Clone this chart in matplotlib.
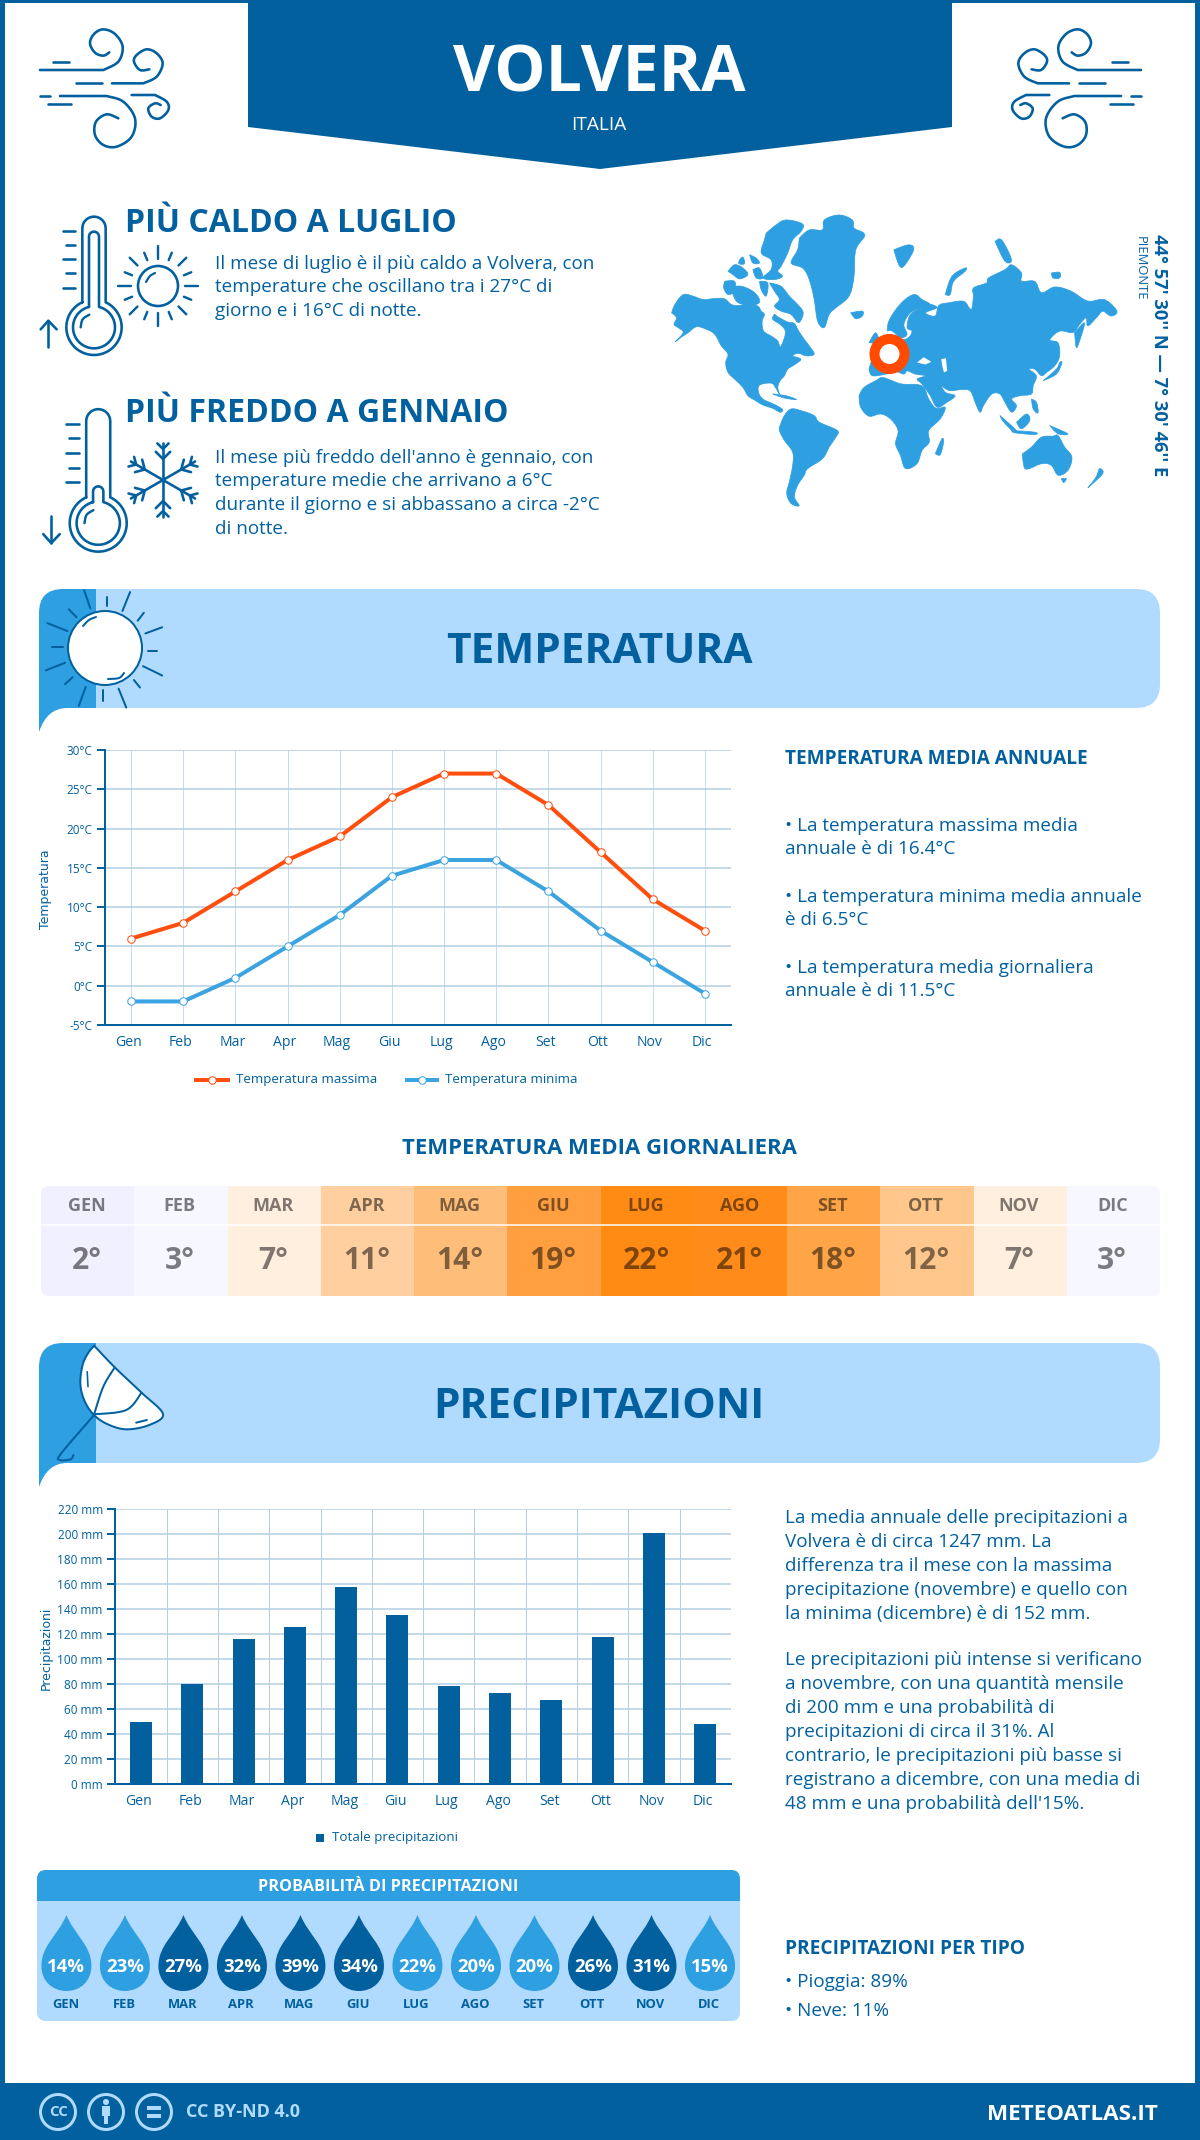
import numpy as np
import matplotlib
matplotlib.use('Agg')
import matplotlib.pyplot as plt
from matplotlib.patches import Polygon, Circle, Rectangle, FancyBboxPatch, PathPatch
from matplotlib.path import Path
from matplotlib.transforms import ScaledTranslation

W, H = 1200, 2140
PX = 0.72  # one pixel in points at dpi 100

DARK = '#02609f'
MID = '#2e9fe0'
LIGHT = '#b0dbff'
RED = '#ff4e0d'
GRID = '#b3cfe2'
BODY = 18.9

plt.rcParams['font.family'] = ['Open Sans', 'DejaVu Sans']

mesi = ['Gen', 'Feb', 'Mar', 'Apr', 'Mag', 'Giu', 'Lug', 'Ago', 'Set', 'Ott', 'Nov', 'Dic']
mesi_upper = ['GEN', 'FEB', 'MAR', 'APR', 'MAG', 'GIU', 'LUG', 'AGO', 'SET', 'OTT', 'NOV', 'DIC']
temp_max = [6, 8, 12, 16, 19, 24, 27, 27, 23, 17, 11, 7]
temp_min = [-2, -2, 1, 5, 9, 14, 16, 16, 12, 7, 3, -1]
temp_ticks = [-5, 0, 5, 10, 15, 20, 25, 30]
temp_media = [2, 3, 7, 11, 14, 19, 22, 21, 18, 12, 7, 3]
heat_colors = ['#f1f0ff', '#f7f8ff', '#ffefdf', '#ffcf9f', '#ffbd7a', '#ff9f40',
               '#ff8a14', '#ff8c1a', '#ffa548', '#ffc78c', '#ffefdf', '#f7f8ff']
precip = [50, 80, 116, 126, 158, 135.5, 79, 73, 67.5, 118, 201, 48]
precip_ticks = list(range(0, 221, 20))
prob = [14, 23, 27, 32, 39, 34, 22, 20, 20, 26, 31, 15]

fig = plt.figure(figsize=(W / 100, H / 100), dpi=100, facecolor='white')
bg = fig.add_axes([0, 0, 1, 1], zorder=0)
bg.set_xlim(0, W)
bg.set_ylim(H, 0)
bg.axis('off')


def txt(x, y, s, size, color=DARK, weight='normal', ha='left', va='baseline', **kw):
    return bg.text(x, y, s, fontsize=size * PX, color=color, fontweight=weight, ha=ha, va=va, **kw)


def smooth(pts, n=14):
    # catmull-rom through the points, good enough for the icons
    p = np.array(pts, dtype=float)
    p = np.vstack([p[0], p, p[-1]])
    out = []
    for i in range(1, len(p) - 2):
        for t in np.linspace(0, 1, n, endpoint=False):
            out.append(0.5 * (2 * p[i] + (p[i + 1] - p[i - 1]) * t
                              + (2 * p[i - 1] - 5 * p[i] + 4 * p[i + 1] - p[i + 2]) * t ** 2
                              + (3 * p[i] - p[i - 1] - 3 * p[i + 1] + p[i + 2]) * t ** 3))
    out.append(p[-2])
    return np.array(out)


def stroke(xy, lw=2.5, color=DARK, z=5):
    xy = np.asarray(xy)
    bg.plot(xy[:, 0], xy[:, 1], color=color, lw=lw * PX, solid_capstyle='round', zorder=z)


# frame and header
bg.add_patch(Rectangle((0, 0), 5, H, color=DARK, lw=0))
bg.add_patch(Rectangle((W - 5, 0), 5, H, color=DARK, lw=0))
bg.add_patch(Rectangle((0, 0), W, 3, color=DARK, lw=0))
bg.add_patch(Polygon([(248, 0), (952, 0), (952, 127), (600, 169), (248, 127)], color=DARK, lw=0))
bg.add_patch(Rectangle((0, 2083), W, 57, color=DARK, lw=0))
txt(599, 91, 'VOLVERA', 64.5, 'white', 'bold', ha='center')
txt(599, 130, 'ITALIA', 19, 'white', ha='center')

# wind icons
wind_curves = [
    [(60, 150), (250, 150), (295, 125), (308, 80), (285, 42), (250, 28), (222, 42), (210, 70), (225, 98), (250, 107), (268, 97)],
    [(276, 190), (370, 190), (410, 170), (428, 130), (410, 100), (380, 88), (350, 105), (342, 125), (360, 150), (388, 148)],
    [(120, 228), (260, 228), (310, 245), (345, 295), (335, 350), (290, 380), (250, 375), (225, 345), (228, 305), (260, 283), (295, 295)],
    [(335, 225), (405, 225), (440, 245), (445, 270), (420, 295), (395, 290), (385, 265), (405, 250), (422, 255)],
]
wind_lines = [[(100, 125), (148, 125)], [(168, 190), (245, 190)], [(60, 228), (90, 228)], [(85, 253), (153, 253)]]
for mirror in (False, True):
    for pts in wind_curves + wind_lines:
        xy = np.array(pts, dtype=float) / 3 + 20
        if len(pts) > 2:
            xy = np.vstack([xy[:2], smooth(xy[1:])])
        if mirror:
            xy[:, 0] = 1181 - xy[:, 0]
        stroke(xy, 2.6)


def thermometer(x0, y0, s, column_top, arrow_up):
    # drawn in the coordinates of a 3x crop
    def P(a):
        a = np.asarray(a, dtype=float)
        return np.column_stack([x0 + a[:, 0] / 3 * s, y0 + a[:, 1] / 3 * s])

    cx, cy = 222, 382
    for half, r, top, cap in ((35, 83, 85, 35), (15, 63, column_top, 15)):
        ang0 = np.arcsin(half / r)
        th = np.linspace(-np.pi + ang0, np.pi - ang0, 60)
        bulb = np.column_stack([cx + r * np.sin(th), cy + r * np.cos(th)])
        t2 = np.linspace(0, np.pi, 20)
        head = np.column_stack([cx + cap * np.cos(t2), top - cap * np.sin(t2)])
        stroke(P(np.vstack([bulb, head, bulb[:1]])), 2.6)
    stroke(P(smooth([(182, 382), (188, 358), (208, 344)])), 2.4)
    for k, y in enumerate([93, 135, 178, 220, 263]):
        stroke(P([(138 if k % 2 else 128, y), (165, y)]), 2.6)
    if arrow_up:
        stroke(P([(85, 440), (85, 362)]), 2.6)
        stroke(P([(62, 388), (85, 362), (110, 388)]), 2.6)
    else:
        stroke(P([(85, 362), (85, 440)]), 2.6)
        stroke(P([(62, 414), (85, 440), (110, 414)]), 2.6)


thermometer(20, 200, 1.0, 110, True)
thermometer(22, 392, 1.03, 290, False)

# sun next to first thermometer
sx, sy = 158, 286
bg.add_patch(Circle((sx, sy), 20, fc='none', ec=DARK, lw=2.6 * PX, zorder=5))
stroke(smooth([(sx - 12, sy - 4), (sx - 8, sy - 10), (sx - 3, sy - 13)]), 2.2)
for k in range(16):
    a = k * np.pi / 8
    r0, r1 = (27, 40) if k % 2 == 0 else (28, 36)
    if k % 4 == 2:
        r0, r1 = 29, 40
    stroke([(sx + r0 * np.cos(a), sy + r0 * np.sin(a)), (sx + r1 * np.cos(a), sy + r1 * np.sin(a))], 2.4)

# snowflake
fx, fy = 163, 480
for k in range(6):
    a = np.pi / 2 + k * np.pi / 3
    u = np.array([np.cos(a), np.sin(a)])
    v = np.array([-u[1], u[0]])
    c = np.array([fx, fy])
    stroke([c, c + 37 * u], 2.6)
    for d, b in ((21, 9), (31, 7)):
        stroke([c + d * u + b * (u + v) * 0.8, c + d * u, c + d * u + b * (u - v) * 0.8], 2.6)

# intro blocks
txt(125, 232, 'PIÙ CALDO A LUGLIO', 32, DARK, 'bold')
for y, line in zip([269, 292, 316], ['Il mese di luglio è il più caldo a Volvera, con',
                                     'temperature che oscillano tra i 27°C di',
                                     'giorno e i 16°C di notte.']):
    txt(215, y, line, BODY)
txt(125, 422, 'PIÙ FREDDO A GENNAIO', 32, DARK, 'bold')
for y, line in zip([463, 486, 510, 534], ["Il mese più freddo dell'anno è gennaio, con",
                                          'temperature medie che arrivano a 6°C',
                                          'durante il giorno e si abbassano a circa -2°C',
                                          'di notte.']):
    txt(215, y, line, BODY)

# world map, outlines traced on a 3x crop of the reference
land = [
    [(35, 340), (45, 315), (70, 285), (100, 290), (130, 300), (165, 297), (195, 298), (215, 315), (240, 318), (265, 312), (295, 320), (305, 335), (315, 345), (308, 365), (312, 395), (335, 410), (355, 425), (362, 443), (372, 425), (378, 395), (362, 375), (340, 360), (345, 345), (355, 352), (385, 368), (405, 372), (418, 395), (435, 420), (450, 440), (465, 465), (440, 470), (418, 462), (400, 470), (425, 480), (405, 497), (385, 510), (375, 530), (362, 545), (355, 565), (360, 585), (348, 565), (335, 552), (300, 558), (297, 580), (310, 600), (335, 612), (352, 620), (370, 632), (362, 640), (340, 628), (310, 618), (285, 603), (265, 590), (250, 565), (225, 540), (205, 520), (198, 490), (205, 465), (185, 440), (165, 405), (140, 390), (110, 382), (85, 400), (62, 415), (45, 428), (70, 400), (55, 385), (42, 375), (50, 355)],
    [(420, 115), (450, 90), (490, 90), (495, 60), (540, 45), (580, 60), (585, 85), (618, 105), (590, 150), (585, 230), (570, 290), (530, 325), (510, 345), (495, 385), (475, 365), (465, 300), (450, 240), (430, 205), (395, 190), (415, 150)],
    [(320, 100), (350, 75), (380, 60), (430, 72), (425, 95), (400, 120), (385, 160), (365, 200), (355, 215), (370, 230), (345, 240), (310, 235), (335, 210), (335, 180), (305, 160), (315, 120)],
    [(330, 250), (365, 260), (390, 290), (415, 315), (432, 340), (418, 370), (395, 345), (365, 335), (345, 320), (360, 300), (345, 275)],
    [(215, 262), (245, 260), (280, 275), (300, 300), (290, 315), (240, 312), (222, 290)],
    [(195, 245), (225, 245), (225, 275), (205, 285), (192, 265)],
    [(205, 215), (225, 195), (250, 205), (265, 225), (240, 238), (220, 225)],
    [(240, 180), (250, 172), (255, 192), (238, 192)],
    [(270, 165), (290, 175), (300, 190), (280, 190)],
    [(280, 210), (300, 205), (310, 235), (290, 235)],
    [(300, 245), (325, 250), (320, 290), (305, 270)],
    [(362, 680), (375, 650), (395, 630), (425, 635), (465, 650), (480, 670), (535, 695), (530, 715), (510, 745), (490, 780), (445, 810), (435, 830), (415, 860), (405, 895), (420, 922), (395, 915), (382, 885), (390, 850), (400, 800), (400, 760), (375, 725), (360, 695)],
    [(600, 590), (615, 565), (650, 545), (670, 535), (700, 545), (730, 555), (790, 560), (810, 600), (832, 628), (860, 625), (845, 660), (810, 695), (812, 730), (790, 755), (775, 795), (740, 810), (725, 770), (710, 735), (718, 695), (695, 660), (665, 645), (630, 652), (605, 625)],
    [(630, 510), (640, 480), (660, 440), (700, 425), (745, 418), (760, 395), (745, 385), (755, 345), (790, 325), (815, 315), (835, 325), (800, 340), (830, 350), (840, 318), (870, 310), (915, 305), (932, 325), (940, 328), (945, 290), (945, 265), (985, 250), (990, 235), (1040, 210), (1060, 195), (1090, 220), (1090, 245), (1130, 245), (1150, 280), (1190, 262), (1240, 275), (1290, 305), (1340, 300), (1378, 335), (1360, 350), (1335, 335), (1320, 350), (1290, 380), (1285, 355), (1265, 375), (1245, 400), (1205, 395), (1175, 422), (1200, 430), (1205, 470), (1190, 500), (1165, 520), (1150, 530), (1130, 510), (1112, 510), (1135, 530), (1125, 560), (1120, 585), (1085, 590), (1060, 600), (1075, 620), (1060, 640), (1040, 610), (1025, 585), (1000, 585), (975, 620), (965, 640), (950, 610), (935, 575), (905, 572), (875, 575), (855, 565), (845, 552), (860, 580), (890, 590), (865, 610), (835, 625), (815, 590), (790, 555), (775, 540), (800, 530), (770, 525), (745, 515), (735, 525), (705, 515), (680, 525), (640, 530)],
    [(685, 395), (690, 365), (715, 325), (745, 295), (770, 285), (790, 300), (815, 315), (790, 325), (755, 340), (735, 375), (745, 405), (725, 415), (700, 395)],
    [(630, 430), (650, 400), (660, 430)],
    [(575, 340), (610, 335), (610, 350), (590, 358)],
    [(705, 150), (750, 135), (765, 150), (735, 200), (720, 195)],
    [(1010, 125), (1030, 120), (1060, 180), (1040, 185)],
    [(860, 285), (880, 230), (920, 205), (920, 215), (885, 245), (875, 285)],
    [(1180, 220), (1205, 218), (1205, 235), (1185, 235)],
    [(830, 765), (850, 720), (855, 730), (845, 768)],
    [(1093, 765), (1120, 745), (1150, 715), (1185, 712), (1200, 710), (1220, 745), (1242, 775), (1230, 815), (1200, 830), (1180, 800), (1150, 795), (1105, 812), (1095, 790)],
    [(1290, 868), (1315, 835), (1325, 810), (1335, 825)],
    [(1155, 545), (1195, 510), (1205, 490), (1212, 490), (1195, 525)],
    [(1250, 400), (1280, 370), (1265, 425), (1255, 445)],
    [(1025, 650), (1075, 695), (1065, 698), (1035, 668)],
    [(1075, 670), (1105, 645), (1115, 665), (1090, 690)],
    [(1060, 695), (1130, 700), (1130, 707), (1070, 702)],
    [(1175, 680), (1230, 705), (1200, 705)],
    [(1120, 600), (1135, 610), (1140, 642), (1125, 630)],
    [(1210, 840), (1225, 840), (1217, 852)],
    [(340, 585), (380, 590), (412, 602), (375, 597)],
]
seas = [
    [(775, 490), (795, 474), (818, 488), (800, 496)],
    [(848, 480), (862, 477), (866, 515), (856, 520), (851, 500)],
]
for poly in land:
    pts = list(poly) + [poly[0]]
    xy = smooth(pts, 4) / 3.015 + [660, 200]
    bg.add_patch(Polygon(xy, closed=True, fc=MID, ec=MID, lw=0.5, zorder=2))
for poly in seas:
    xy = np.array(poly, dtype=float) / 3.015 + [660, 200]
    bg.add_patch(Polygon(xy, closed=True, color='white', lw=0, zorder=2))
bg.add_patch(Circle((889.5, 354), 15, fc='white', ec='#ff4a00', lw=10 * PX, zorder=3))
txt(1159, 355, "44° 57' 30'' N — 7° 30' 46'' E", 18.4, DARK, 'bold', ha='center', va='center', rotation=270)
txt(1140, 268, 'PIEMONTE', 13, DARK, ha='center', va='center', rotation=270)


def banner(y0, y1, title, baseline):
    left, right, split = 39, 1160, 96
    bg.add_patch(FancyBboxPatch((left + 30, y0), right - left - 30, y1 - y0,
                                boxstyle='round,pad=0,rounding_size=24', color=LIGHT, lw=0, zorder=1))
    bg.add_patch(Rectangle((split, y0), 60, y1 - y0, color=LIGHT, lw=0, zorder=1))
    verts = [(left, y0 + 24), (left, y0), (left + 24, y0), (split, y0), (split, y1), (left + 28, y1),
             (left + 8, y1), (left, y1 + 24), (left, y1 + 24), (left, y0 + 24)]
    codes = [Path.MOVETO, Path.CURVE3, Path.CURVE3, Path.LINETO, Path.LINETO, Path.LINETO,
             Path.CURVE3, Path.CURVE3, Path.LINETO, Path.CLOSEPOLY]
    bg.add_patch(PathPatch(Path(verts, codes), color=MID, lw=0, zorder=1))
    txt(599, baseline, title, 42.4, DARK, 'bold', ha='center')


banner(589, 708, 'TEMPERATURA', 663)
banner(1343, 1463, 'PRECIPITAZIONI', 1418)

# banner sun
sx, sy = 105, 648
bg.add_patch(Circle((sx, sy), 37, fc='white', ec=DARK, lw=2 * PX, zorder=4))
stroke(smooth([(sx - 22, sy - 22), (sx - 16, sy - 28), (sx - 9, sy - 31)]), 2)
stroke(smooth([(sx + 19, sy + 25), (sx + 14, sy + 30), (sx + 3, sy + 31)]), 2)
sun_rays = [((110, 30), (118, 82)), ((140, 48), (140, 75)), ((170, 35), (160, 90)), ((90, 85), (100, 108)),
            ((180, 118), (188, 95)), ((62, 125), (88, 148)), ((190, 155), (212, 137)), ((68, 193), (82, 193)),
            ((193, 205), (205, 205)), ((60, 262), (85, 240)), ((187, 250), (212, 277)), ((85, 302), (95, 282)),
            ((175, 290), (183, 312)), ((112, 310), (103, 365)), ((135, 318), (135, 352)), ((155, 315), (165, 370))]
for a, b in sun_rays:
    stroke([(a[0] / 1.307, 580 + a[1] / 2.9), (b[0] / 1.307, 580 + b[1] / 2.9)], 2)

# umbrella
um = np.array([(123, 677), (150, 742), (185, 818), (213, 882), (195, 915), (165, 928), (140, 912), (122, 883),
               (110, 840), (105, 790), (108, 735), (115, 700)], dtype=float)
um[:, 0] /= 1.307
um[:, 1] = 1120 + um[:, 1] / 3
um = smooth(list(um) + [um[0]])
bg.add_patch(Polygon(um, fc='white', ec=DARK, lw=2 * PX, zorder=4))


def uc(pts):
    a = np.array(pts, dtype=float)
    return np.column_stack([a[:, 0] / 1.307, 1120 + a[:, 1] / 3])


stroke(smooth(uc([(150, 742), (135, 800), (123, 883)])), 2)
stroke(smooth(uc([(185, 818), (165, 870), (123, 883)])), 2)
stroke(uc([(178, 908), (192, 900)]), 2)
stroke(uc([(114, 755), (115, 800)]), 1.6)
stroke(smooth(uc([(123, 885), (80, 1000), (78, 1020), (92, 1018), (96, 1005)])), 2)


def make_axes(l, t, r, b, shift):
    ax = fig.add_axes([l / W, 1 - b / H, (r - l) / W, (b - t) / H], zorder=3)
    ax.patch.set_alpha(0)
    for s in ('top', 'right'):
        ax.spines[s].set_visible(False)
    for s in ('left', 'bottom'):
        ax.spines[s].set_color(DARK)
        ax.spines[s].set_linewidth(2 * PX)
    ax.tick_params(axis='y', colors=DARK, labelsize=11.8 * PX, length=6, width=1.4, pad=3, color=DARK)
    ax.tick_params(axis='x', colors=DARK, labelsize=14 * PX, length=0, pad=7)
    ax.set_axisbelow(True)
    ax.set_xlim(-0.5, 11.5)
    ax.set_xticks(range(12))
    ax.set_xticklabels(mesi)
    # month names sit a little left of the category centre in the reference
    for lab in ax.get_xticklabels():
        lab.set_transform(lab.get_transform() + ScaledTranslation(-shift / 100, 0, fig.dpi_scale_trans))
    return ax


# temperature chart
ax = make_axes(105, 750, 731, 1025, 3)
ax.set_ylim(-5, 30)
ax.set_yticks(temp_ticks)
ax.set_yticklabels([f'{v}°C' for v in temp_ticks])
ax.grid(axis='y', color=GRID, lw=1.5 * PX)
ax.grid(axis='x', color='#c5dcec', lw=1 * PX)
ax.plot(mesi, temp_max, color=RED, lw=4 * PX, marker='o', ms=7.5 * PX, mfc='white', mec=RED, mew=1 * PX, clip_on=False)
ax.plot(mesi, temp_min, color='#3aa3e0', lw=4 * PX, marker='o', ms=7.5 * PX, mfc='white', mec='#3aa3e0', mew=1 * PX, clip_on=False)
bg.text(46, 889, 'Temperatura', fontsize=12.5 * PX, color=DARK, rotation=90, ha='center', va='center', family='DejaVu Sans')
# legend
for x0, x1, c, label in ((196, 228, RED, 'Temperatura massima'), (407, 437, '#3aa3e0', 'Temperatura minima')):
    bg.plot([x0, x1], [1080, 1080], color=c, lw=4 * PX)
    bg.plot([(x0 + x1) / 2], [1080], 'o', ms=7.5 * PX, mfc='white', mec=c, mew=1 * PX)
    txt(x1 + 8, 1080, label, 13.4, va='center')

txt(785, 764, 'TEMPERATURA MEDIA ANNUALE', 19, DARK, 'bold')
for y, line in zip([831, 854, 902, 925, 973, 996],
                   ['• La temperatura massima media', 'annuale è di 16.4°C',
                    '• La temperatura minima media annuale', 'è di 6.5°C',
                    '• La temperatura media giornaliera', 'annuale è di 11.5°C']):
    txt(785, y, line, BODY)

# heat table
txt(599, 1154, 'TEMPERATURA MEDIA GIORNALIERA', 22.2, DARK, 'bold', ha='center')
clip = FancyBboxPatch((41, 1186), 1119, 110, boxstyle='round,pad=0,rounding_size=8', fc='none', ec='none')
bg.add_patch(clip)
cell_w = 1119 / 12
for i, (m, v, c) in enumerate(zip(mesi_upper, temp_media, heat_colors)):
    x = 41 + i * cell_w
    r = Rectangle((x, 1186), cell_w + 0.5, 110, color=c, lw=0, zorder=1)
    bg.add_patch(r)
    r.set_clip_path(clip)
    txt(x + cell_w / 2 - 1, 1206, m, 18, 'black', 'bold', ha='center', va='center', alpha=0.5, zorder=3)
    txt(x + cell_w / 2 - 1, 1261, f'{v}°', 30, 'black', 'bold', ha='center', va='center', alpha=0.5, zorder=3)
bg.plot([41, 1160], [1225, 1225], color='white', lw=1.5 * PX, zorder=2)

# precipitation chart
ax2 = make_axes(115.3, 1509.3, 731, 1784.3, 2)
ax2.set_ylim(0, 220)
ax2.set_yticks(precip_ticks)
ax2.set_yticklabels([f'{v} mm' for v in precip_ticks])
ax2.set_xticks(np.arange(-0.5, 11.5, 1), minor=True)
ax2.tick_params(axis='x', which='minor', length=0)
ax2.grid(axis='y', color=GRID, lw=1.5 * PX)
ax2.grid(axis='x', which='minor', color=GRID, lw=1 * PX)
ax2.bar(mesi, precip, width=22 / 51.3, color=DARK)
bg.text(46, 1648, 'Precipitazioni', fontsize=12.5 * PX, color=DARK, rotation=90, ha='center', va='center', family='DejaVu Sans')
bg.add_patch(Rectangle((316, 1834), 8, 8, color=DARK, lw=0))
txt(332, 1838, 'Totale precipitazioni', 13.4, va='center')

for y, line in zip([1523, 1547, 1571, 1595, 1619, 1665, 1689, 1713, 1737, 1761, 1785, 1809],
                   ['La media annuale delle precipitazioni a', 'Volvera è di circa 1247 mm. La',
                    'differenza tra il mese con la massima', 'precipitazione (novembre) e quello con',
                    'la minima (dicembre) è di 152 mm.',
                    'Le precipitazioni più intense si verificano', 'a novembre, con una quantità mensile',
                    'di 200 mm e una probabilità di', 'precipitazioni di circa il 31%. Al',
                    'contrario, le precipitazioni più basse si', 'registrano a dicembre, con una media di',
                    "48 mm e una probabilità dell'15%."]):
    txt(785, y, line, BODY)

txt(785, 1954, 'PRECIPITAZIONI PER TIPO', 19.2, DARK, 'bold')
txt(785, 1987, '• Pioggia: 89%', BODY)
txt(785, 2016, '• Neve: 11%', BODY)

# probability panel
bg.add_patch(FancyBboxPatch((37, 1870), 703, 151, boxstyle='round,pad=0,rounding_size=9', color=LIGHT, lw=0, zorder=1))
head_clip = FancyBboxPatch((37, 1870), 703, 151, boxstyle='round,pad=0,rounding_size=9', fc='none', ec='none')
bg.add_patch(head_clip)
hd = Rectangle((37, 1870), 703, 31, color=MID, lw=0, zorder=2)
bg.add_patch(hd)
hd.set_clip_path(head_clip)
txt(388, 1887, 'PROBABILITÀ DI PRECIPITAZIONI', 16.2, 'white', 'bold', ha='center', va='center', zorder=3)
drop_x = np.linspace(66.4, 710, 12)
for x, p, m in zip(drop_x, prob, mesi_upper):
    c = DARK if p >= 26 else MID
    top, bot, r = 1915, 1991, 25
    verts = [(x, top), (x + 8, top + 20), (x + r, top + 30), (x + r, top + 51),
             (x + r, bot - 10), (x + 14, bot), (x, bot),
             (x - 14, bot), (x - r, bot - 10), (x - r, top + 51),
             (x - r, top + 30), (x - 8, top + 20), (x, top), (x, top)]
    codes = [Path.MOVETO] + [Path.CURVE4] * 12 + [Path.CLOSEPOLY]
    bg.add_patch(PathPatch(Path(verts, codes), color=c, lw=0, zorder=2))
    txt(x, 1967, f'{p}%', 18.5, 'white', 'bold', ha='center', va='center', zorder=3)
    txt(x - 1, 2005, m, 13, DARK, 'bold', ha='center', va='center', zorder=3)

# footer
for cx in (58, 106, 154):
    bg.add_patch(Circle((cx, 2112), 17.5, fc='none', ec=LIGHT, lw=3 * PX, zorder=4))
txt(58, 2112, 'CC', 15, LIGHT, 'bold', ha='center', va='center', zorder=4)
bg.add_patch(Circle((106, 2102), 3, color=LIGHT, lw=0, zorder=4))
bg.add_patch(Rectangle((102, 2106), 8, 10, color=LIGHT, lw=0, zorder=4))
bg.add_patch(Rectangle((104, 2116), 4, 8, color=LIGHT, lw=0, zorder=4))
bg.add_patch(Rectangle((147, 2106), 14, 3.5, color=LIGHT, lw=0, zorder=4))
bg.add_patch(Rectangle((147, 2114), 14, 3.5, color=LIGHT, lw=0, zorder=4))
txt(186, 2112, 'CC BY-ND 4.0', 18, LIGHT, 'bold', va='center')
txt(1158, 2120, 'METEOATLAS.IT', 22.4, 'white', 'bold', ha='right')

fig.savefig('out.png', dpi=100)
